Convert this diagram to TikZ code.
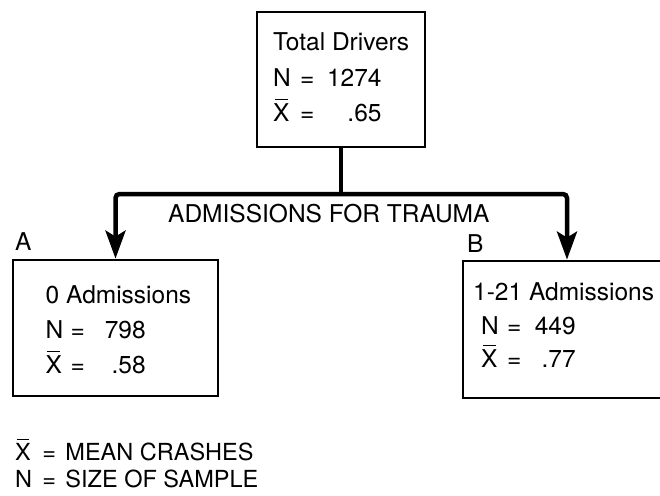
\documentclass[tikz,border=0pt]{standalone}
\usepackage{fontspec}
\setmainfont{TeX Gyre Heros}
\usetikzlibrary{arrows.meta}
\newcommand\xbar{\leavevmode\rlap{\hspace{0.07em}\rule[0.84em]{0.52em}{0.06em}}X}
\newcommand\eqrow[4]{\makebox[#3][l]{#1}=\makebox[#4][r]{#2}}
\begin{document}
\begin{tikzpicture}[x=1pt,y=-1pt,
  every node/.style={font=\fontsize{24.5}{30}\selectfont, inner sep=0pt},
  txt/.style={anchor=base west},
  legtxt/.style={anchor=base west, font=\fontsize{23.5}{28}\selectfont},
  boxnode/.style={draw, line width=2.8pt, rectangle},
  conn/.style={line width=4.5pt, rounded corners=4pt},
  arr/.style={-{Stealth[length=28pt,width=20pt,inset=6pt]}}]
\useasboundingbox (0,0) rectangle (660,495);
\clip (0,0) rectangle (660,495);
% boxes
\node[boxnode, minimum width=168pt, minimum height=135pt] (top) at (341,79.5) {};
\node[boxnode, minimum width=205pt, minimum height=136pt] (A) at (115.5,328) {};
\node[boxnode, minimum width=208pt, minimum height=137pt] (B) at (567,329.5) {};
% top box text
\node[txt] (t1) at (273,50) {Total Drivers};
\node[txt] (t2) at (273,86) {\eqrow{N}{1274}{27pt}{67pt}};
\node[txt] (t3) at (273,121) {\eqrow{\xbar}{.65}{27pt}{67pt}};
% left box text
\node[txt] (a1) at (45.5,303) {0 Admissions};
\node[txt] (a2) at (45.5,338) {\eqrow{N}{798}{25pt}{60.7pt}};
\node[txt] (a3) at (45.5,373) {\eqrow{\xbar}{.58}{25pt}{60.7pt}};
% right box text
\node[txt] (b1) at (473,300) {1-21 Admissions};
\node[txt] (b2) at (481,334) {\eqrow{N}{449}{26pt}{54.2pt}};
\node[txt] (b3) at (481,367) {\eqrow{\xbar}{.77}{26pt}{54.2pt}};
% labels
\node[txt] (lA) at (15,250) {A};
\node[txt] (lB) at (467,252) {B};
\node[txt] (adm) at (168,222) {ADMISSIONS FOR TRAUMA};
% connectors
\coordinate (J) at (341,194);
\draw[conn] (top.south) -- (J);
\draw[conn, arr] (J) -| (A.north);
\draw[conn, arr] (J) -| (B.north);
% legend
\node[legtxt] (leg1) at (15,460) {\makebox[27pt][l]{\xbar}\makebox[14.3pt]{=}\hspace{9pt}MEAN CRASHES};
\node[legtxt] (leg2) at (15,487) {\makebox[27pt][l]{N}\makebox[14.3pt]{=}\hspace{9pt}SIZE OF SAMPLE};
\end{tikzpicture}
\end{document}
